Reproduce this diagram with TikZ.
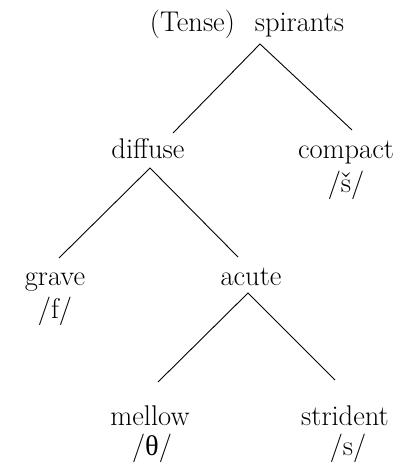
\documentclass[tikz,border=0pt]{standalone}
\usepackage{fontspec}
\newfontfamily\grk{Liberation Serif}
\usetikzlibrary{calc}
\begin{document}
\begin{tikzpicture}[x=1pt,y=-1pt,
  lbl/.style={inner sep=0pt, anchor=base, font=\fontsize{28.5}{33}\selectfont},
  edge/.style={line width=0.9pt}]
\useasboundingbox (0,0) rectangle (398,464);
% labels of the feature tree
\node[lbl] (top) at (247,31) {(Tense)\hspace{0.7em}spirants};
\node[lbl] (dif) at (148,158) {diffuse};
\node[lbl] (cmp) at (346,158) {compact};
\node[lbl] (sh)  at (346,192) {/š/};
\node[lbl] (grv) at (55,285) {grave};
\node[lbl] (fph) at (55,318) {/f/};
\node[lbl] (acu) at (251,285) {acute};
\node[lbl] (mel) at (150,425) {mellow};
\node[lbl] (th)  at (152,455) {/{\grk θ}/};
\node[lbl] (str) at (345,425) {strident};
\node[lbl] (sph) at (348,455) {/s/};
% branches
\draw[edge] ($(dif.base)+(25,-25)$) -- ($(top.base)+(13,13)$) -- ($(cmp.base)+(6,-28)$);
\draw[edge] ($(grv.base)+(4,-27)$) -- ($(dif.base)+(2,10)$) -- ($(acu.base)+(-13,-28)$);
\draw[edge] ($(mel.base)+(8,-43)$) -- ($(acu.base)+(-3,8)$) -- ($(str.base)+(-10,-45)$);
\end{tikzpicture}
\end{document}
